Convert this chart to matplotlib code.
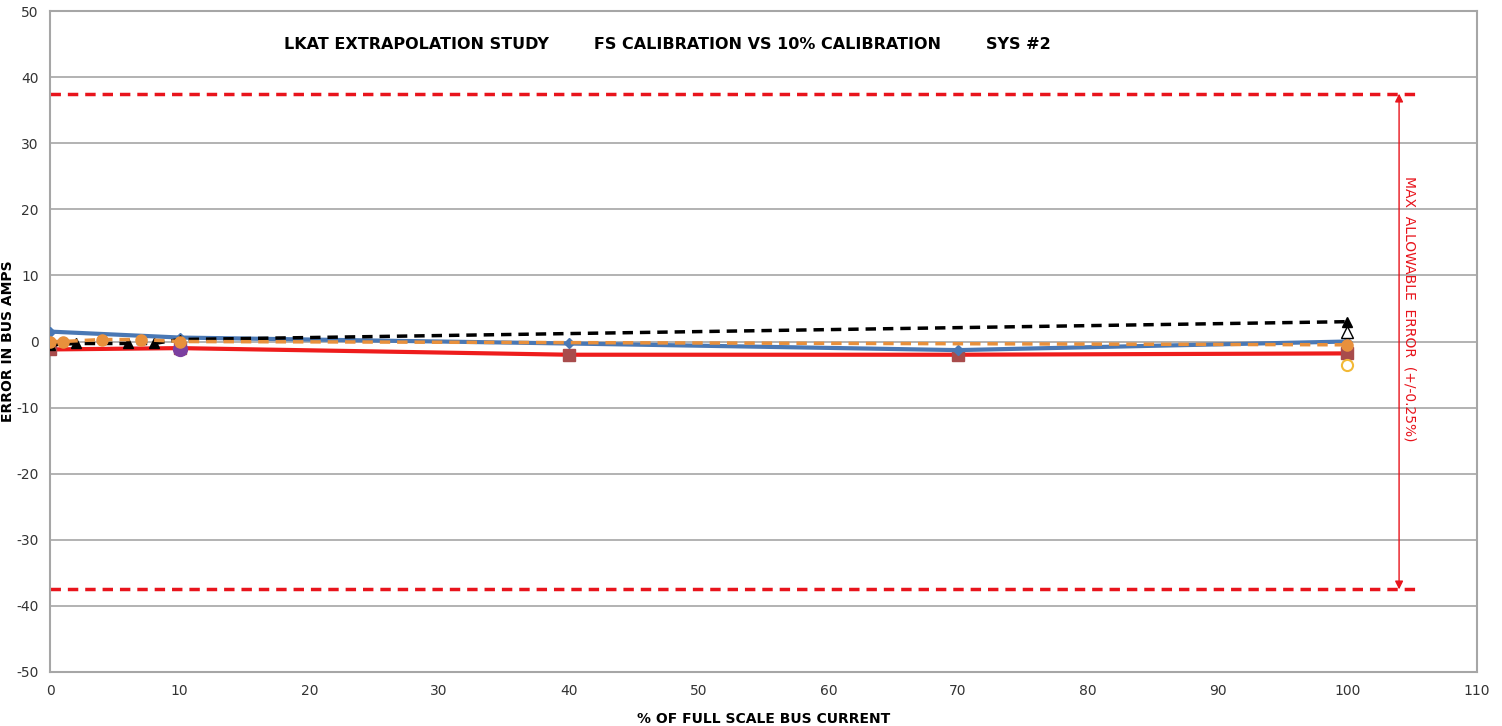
import matplotlib
matplotlib.use("Agg")
import matplotlib.pyplot as plt

plt.rcParams["axes.unicode_minus"] = False

# data
blue_x = [0, 10, 40, 70, 100]
blue_y = [1.5, 0.6, -0.3, -1.3, 0.0]

black_x = [0, 2, 6, 8, 10, 100]
black_y = [-0.5, -0.3, -0.3, -0.3, 0.3, 3.0]

red_x = [0, 10, 40, 70, 100]
red_y = [-1.2, -1.0, -2.0, -2.0, -1.8]

orange_x = [0, 1, 4, 7, 10, 100]
orange_y = [0.0, 0.0, 0.3, 0.3, 0.0, -0.5]

purple_x = [10]
purple_y = [-1.2]

open_tri_x = [100]
open_tri_y = [1.5]

yellow_x = [100]
yellow_y = [-3.5]

limit = 37.5
title = "LKAT EXTRAPOLATION STUDY        FS CALIBRATION VS 10% CALIBRATION        SYS #2"

fig = plt.figure(figsize=(15.02, 7.26), dpi=100)
ax = fig.add_axes([0.0333, 0.0744, 0.95, 0.9104])

ax.set_xlim(0, 110)
ax.set_ylim(-50, 50)
ax.set_xticks(range(0, 111, 10))
ax.set_yticks(range(-50, 51, 10))
ax.yaxis.grid(True, color="#a6a6a6", linewidth=1.2)
ax.set_axisbelow(True)
for spine in ["top", "right", "left", "bottom"]:
    ax.spines[spine].set_color("#a6a6a6")
    ax.spines[spine].set_linewidth(1.5)
ax.tick_params(length=0, labelsize=10, colors="#333333")
ax.tick_params(axis="x", pad=9)
ax.tick_params(axis="y", pad=8)

ax.plot(red_x, red_y, color="#ee1c1c", linewidth=3, marker="s", markersize=8,
        markerfacecolor="#a84c4c", markeredgecolor="#a84c4c", zorder=3)
ax.plot(blue_x, blue_y, color="#4a78b4", linewidth=3, marker="D", markersize=5,
        markerfacecolor="#4a78b4", zorder=4)
ax.plot(black_x, black_y, color="black", linewidth=2.5, linestyle=(0, (3, 2)),
        marker="^", markersize=7, zorder=5)
ax.plot(orange_x, orange_y, color="#e8903c", linewidth=2.5, linestyle=(0, (3, 2)),
        marker="o", markersize=8, zorder=6)
ax.plot(purple_x, purple_y, linestyle="none", marker="o", markersize=10,
        color="#7b3fa0", zorder=5)
ax.plot(open_tri_x, open_tri_y, linestyle="none", marker="^", markersize=8,
        markerfacecolor="white", markeredgecolor="black", zorder=5)
ax.plot(yellow_x, yellow_y, linestyle="none", marker="o", markersize=8,
        markerfacecolor="white", markeredgecolor="#f2b937", markeredgewidth=1.5, zorder=5)

# allowable error band
for lv in (limit, -limit):
    ax.plot([0, 105.3], [lv, lv], color="#e8141c", linewidth=2.5,
            linestyle=(0, (3, 2)), clip_on=False, zorder=2)
ax.annotate("", xy=(104, limit), xytext=(104, -limit),
            arrowprops=dict(arrowstyle="<|-|>", color="#e8141c", linewidth=1,
                            mutation_scale=12, shrinkA=0, shrinkB=0))
ax.text(104.8, 5, "MAX  ALLOWABLE  ERROR  (+/-0.25%)", rotation=-90,
        color="#e8141c", fontsize=10, ha="center", va="center")

ax.text(47.6, 45, title, fontsize=11.5, fontweight="bold", ha="center", va="center")
ax.set_xlabel("% OF FULL SCALE BUS CURRENT", fontsize=10, fontweight="bold", labelpad=10)
ax.set_ylabel("ERROR IN BUS AMPS", fontsize=10, fontweight="bold")
ax.yaxis.set_label_coords(-0.0245, 0.5)

fig.savefig("out.png", dpi=100)
